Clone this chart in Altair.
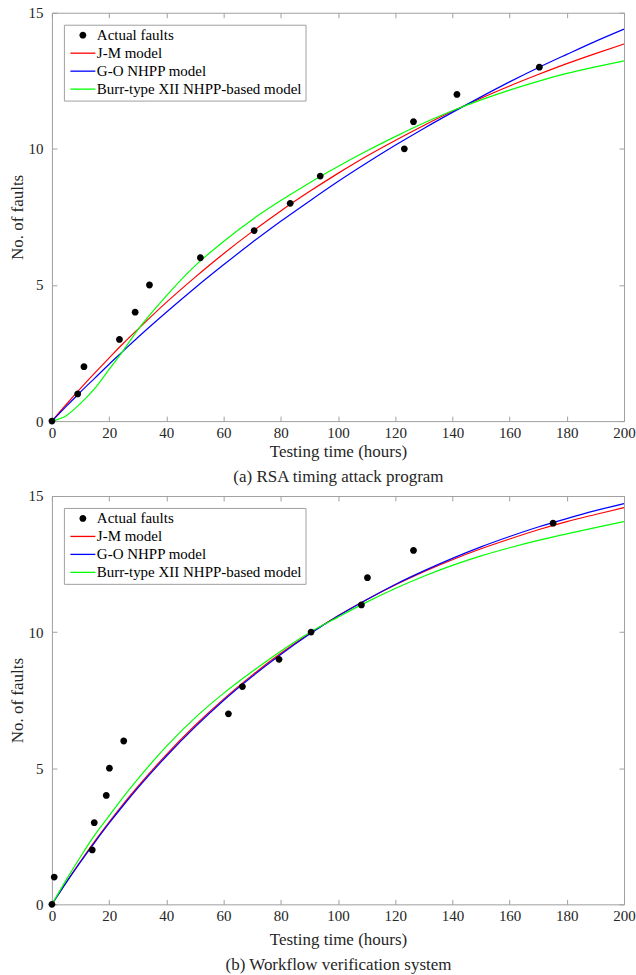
import altair as alt
import pandas as pd

# ---------------- data ----------------
T = [0, 5, 10, 15, 20, 25, 30, 40, 50, 60, 70, 80, 90, 100, 110, 120,
     130, 140, 150, 160, 170, 180, 190, 200]

# (a) RSA timing attack program
rsa_fault_time = [0, 9.0, 11.2, 23.6, 29.1, 34.1, 51.9, 70.7, 83.3, 93.8,
                  123.2, 126.4, 141.6, 170.4]
rsa_fault_count = [0, 1, 2, 3, 4, 5, 6, 7, 8, 9, 10, 11, 12, 13]
rsa_jm = [0, 0.61, 1.20, 1.77, 2.32, 2.86, 3.37, 4.36, 5.28, 6.15, 6.96, 7.72,
          8.43, 9.10, 9.73, 10.31, 10.86, 11.38, 11.86, 12.31, 12.73, 13.13,
          13.50, 13.85]
rsa_go = [0, 0.54, 1.07, 1.58, 2.09, 2.58, 3.07, 4.00, 4.89, 5.74, 6.56, 7.34,
          8.08, 8.80, 9.48, 10.13, 10.75, 11.34, 11.91, 12.46, 12.98, 13.47,
          13.95, 14.40]
rsa_burr = [0, 0.20, 0.65, 1.20, 1.90, 2.60, 3.35, 4.60, 5.70, 6.60, 7.40,
            8.10, 8.75, 9.35, 9.92, 10.45, 10.95, 11.40, 11.80, 12.16, 12.48,
            12.77, 13.01, 13.23]

# (b) Workflow verification system
wf_fault_time = [0, 0.8, 14.1, 14.8, 19.0, 20.1, 25.1, 61.7, 66.6, 79.4,
                 90.6, 108.2, 110.3, 126.4, 175.2]
wf_fault_count = [0, 1, 2, 3, 4, 5, 6, 7, 8, 9, 10, 11, 12, 13, 14]
wf_jm = [0, 0.81, 1.58, 2.32, 3.02, 3.69, 4.32, 5.50, 6.57, 7.54, 8.42, 9.22,
         9.94, 10.60, 11.19, 11.73, 12.22, 12.66, 13.06, 13.42, 13.76, 14.06,
         14.32, 14.57]
wf_go = [0, 0.80, 1.56, 2.28, 2.98, 3.64, 4.27, 5.44, 6.51, 7.49, 8.37, 9.18,
         9.92, 10.59, 11.19, 11.75, 12.25, 12.71, 13.13, 13.51, 13.86, 14.17,
         14.46, 14.72]
wf_burr = [0, 0.90, 1.75, 2.55, 3.25, 3.95, 4.60, 5.80, 6.85, 7.75, 8.55, 9.30,
           9.98, 10.55, 11.10, 11.60, 12.05, 12.45, 12.80, 13.10, 13.37, 13.61,
           13.84, 14.06]

series_names = ["Actual faults", "J-M model", "G-O NHPP model",
                "Burr-type XII NHPP-based model"]
series_colors = ["#000000", "#ff0000", "#0000ff", "#00ff00"]
x_ticks = [0, 20, 40, 60, 80, 100, 120, 140, 160, 180, 200]
y_ticks = [0, 5, 10, 15]

FONT = "Liberation Serif"
DOT = "M0.68,0A0.68,0.68,0,1,1,-0.68,0A0.68,0.68,0,1,1,0.68,0Z"
BAR = "M-2.5,-0.13H2.5V0.13H-2.5Z"
AXIS_GRAY = "#a0a0a0"


def panel(ft, fn, jm, go, burr, caption, title_pad):
    xscale = alt.Scale(domain=[0, 200], nice=False, zero=False)
    yscale = alt.Scale(domain=[0, 15], nice=False)
    cscale = alt.Scale(domain=series_names, range=series_colors)
    sscale = alt.Scale(domain=series_names, range=[DOT, BAR, BAR, BAR])

    layers = []
    for i, (name, vals, col) in enumerate(
            zip(series_names[1:], [jm, go, burr], series_colors[1:])):
        df = pd.DataFrame({"t": T, "n": vals, "series": name})
        if i == 0:
            xax = alt.Axis(orient="bottom", values=x_ticks,
                           title=["Testing time (hours)", caption],
                           offset=-5, labelPadding=4, titlePadding=title_pad,
                           titleLineHeight=25, labelFlush=False)
            yax = alt.Axis(orient="left", values=y_ticks,
                           title="No. of faults", offset=-5,
                           labelPadding=9, titlePadding=1, labelFlush=False)
        else:
            xax = None
            yax = None
        layers.append(
            alt.Chart(df).mark_line(
                strokeWidth=1.2, interpolate="monotone", color=col
            ).encode(
                x=alt.X("t:Q", scale=xscale, axis=xax),
                y=alt.Y("n:Q", scale=yscale, axis=yax),
            )
        )

    legend = alt.Legend(
        title=None, orient="top-left", offset=12, padding=3,
        strokeColor=AXIS_GRAY, fillColor="white",
        labelFont=FONT, labelFontSize=15, labelColor="#000000",
        labelLimit=400, symbolSize=100, symbolOffset=8.5,
        labelOffset=6.5, rowPadding=2, symbolStrokeWidth=0,
    )

    pts = pd.DataFrame({"t": ft, "n": fn, "series": series_names[0]})
    points = alt.Chart(pts).mark_point(
        filled=True, size=100, opacity=1
    ).encode(
        x=alt.X("t:Q", scale=xscale,
                axis=alt.Axis(orient="top", values=x_ticks, labels=False,
                              title=None, offset=-5)),
        y=alt.Y("n:Q", scale=yscale,
                axis=alt.Axis(orient="right", values=y_ticks, labels=False,
                              title=None, offset=-5)),
        color=alt.Color("series:N", scale=cscale, legend=legend),
        shape=alt.Shape("series:N", scale=sscale, legend=legend),
    )
    layers.append(points)

    return alt.layer(*layers).resolve_axis(
        x="independent", y="independent"
    ).properties(width=573, height=409)


top = panel(rsa_fault_time, rsa_fault_count, rsa_jm, rsa_go, rsa_burr,
            "(a) RSA timing attack program", 3)
bottom = panel(wf_fault_time, wf_fault_count, wf_jm, wf_go, wf_burr,
               "(b) Workflow verification system", 8)

chart = alt.vconcat(top, bottom, spacing=3).resolve_scale(
    color="independent", shape="independent"
).resolve_legend(
    color="independent", shape="independent"
).configure(
    padding={"left": 8, "top": 4, "right": 0, "bottom": 0},
    font=FONT,
).configure_view(
    stroke=AXIS_GRAY, strokeWidth=1
).configure_axis(
    grid=False, domain=False, ticks=True, tickSize=5, tickColor=AXIS_GRAY,
    labelFont=FONT, labelFontSize=15, labelColor="#262626",
    titleFont=FONT, titleFontSize=17, titleFontWeight="normal",
    titleColor="#262626",
)

chart.save("out.html", embed_options={"renderer": "svg", "actions": False})
